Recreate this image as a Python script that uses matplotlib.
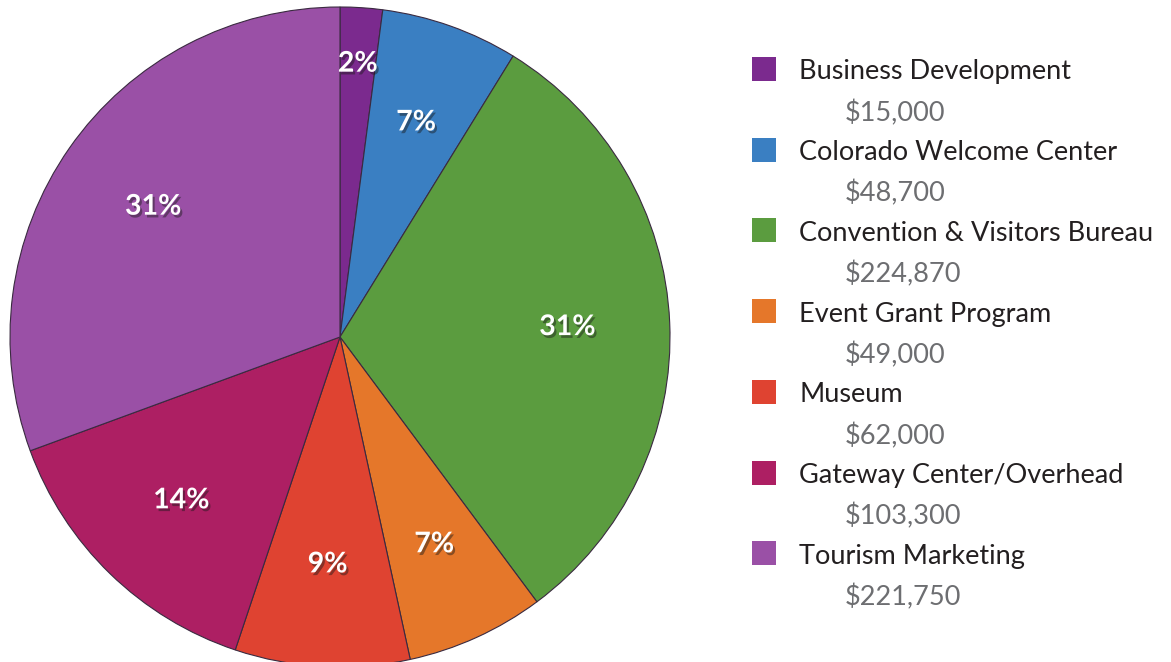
import matplotlib.pyplot as plt
import matplotlib.patheffects as pe
from matplotlib.patches import Rectangle

# Budget allocation data
categories = ['Business Development', 'Colorado Welcome Center', 'Convention & Visitors Bureau',
              'Event Grant Program', 'Museum', 'Gateway Center/Overhead', 'Tourism Marketing']
amounts = [15000, 48700, 224870, 49000, 62000, 103300, 221750]
colors = ['#7B2A8E', '#3A7FC2', '#5B9C3F', '#E5772A', '#DF4331', '#AD1F63', '#9A50A6']

W, H = 1171, 662
fig = plt.figure(figsize=(W / 100, H / 100), dpi=100)

# pie axes placed so the circle sits at the left (center ~ (340, 337) px, radius 330 px)
cx, cy, r = 340, 337, 330
ax = fig.add_axes([(cx - r) / W, (H - cy - r) / H, 2 * r / W, 2 * r / H])

wedges, texts, autotexts = ax.pie(
    amounts, colors=colors, startangle=90, counterclock=False,
    autopct=lambda p: f'{p:.0f}%', pctdistance=0.69,
    wedgeprops=dict(edgecolor='#3a2a40', linewidth=0.8),
    textprops=dict(color='white', fontsize=20.5, fontweight='bold', family='Lato'))
ax.set_xlim(-1, 1)
ax.set_ylim(-1, 1)
ax.set_aspect('equal')
ax.axis('off')

# soft drop shadow behind the white percentages
for t in autotexts:
    t.set_path_effects([pe.withSimplePatchShadow(offset=(1.5, -2), shadow_rgbFace='#1a1a1a', alpha=0.45)])

# small first slice: label sits further out
x0, y0 = autotexts[0].get_position()
autotexts[0].set_position((x0 * 0.83 / 0.69, y0 * 0.83 / 0.69))

# legend on the right, drawn in pixel coordinates
row0, step = 69, 80.7
for i, (cat, amt, col) in enumerate(zip(categories, amounts, colors)):
    yc = row0 + i * step
    fig.patches.append(Rectangle((752 / W, (H - yc - 12) / H), 24 / W, 24 / H,
                                 transform=fig.transFigure, facecolor=col, edgecolor='none'))
    fig.text(799 / W, (H - yc - 3) / H, cat, fontsize=19.5, color='#231F20',
             family='Lato', va='center', ha='left')
    fig.text(845 / W, (H - yc - 44) / H, f'${amt:,}', fontsize=19.5, color='#6D6E71',
             family='Lato', va='center', ha='left')

fig.savefig('out.png', dpi=100)
